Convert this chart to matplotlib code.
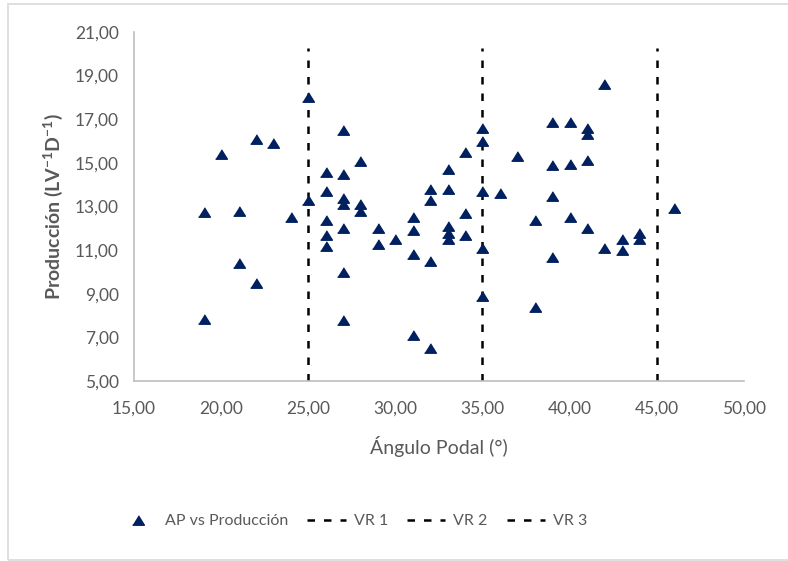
import matplotlib
matplotlib.use("Agg")
import matplotlib.pyplot as plt
from matplotlib.patches import Rectangle
from matplotlib.ticker import FuncFormatter

plt.rcParams["font.family"] = ["Lato", "DejaVu Sans"]
plt.rcParams["mathtext.default"] = "regular"

# Ángulo podal (°) and producción
angulo = [19, 19, 20, 21, 21, 22, 22, 23, 24, 25, 25,
          26, 26, 26, 26, 26,
          27, 27, 27, 27, 27, 27, 27,
          28, 28, 28, 29, 29, 30,
          31, 31, 31, 31, 32, 32, 32, 32,
          33, 33, 33, 33, 33, 34, 34, 34,
          35, 35, 35, 35, 35, 36, 37, 38, 38,
          39, 39, 39, 39, 40, 40, 40,
          41, 41, 41, 41, 42, 42, 43, 43, 44, 44, 46]
produccion = [12.75, 7.85, 15.4, 12.8, 10.4, 16.1, 9.5, 15.9, 12.5, 18.0, 13.3,
              14.6, 13.7, 12.4, 11.7, 11.2,
              16.5, 14.5, 13.4, 13.1, 12.0, 10.0, 7.8,
              15.1, 13.1, 12.8, 12.0, 11.3, 11.5,
              12.5, 11.9, 10.8, 7.1, 13.8, 13.3, 10.5, 6.5,
              14.7, 13.8, 12.1, 11.8, 11.5, 15.5, 12.7, 11.7,
              16.6, 16.0, 13.7, 11.1, 8.9, 13.6, 15.3, 12.4, 8.4,
              16.85, 14.9, 13.5, 10.7, 16.85, 14.95, 12.5,
              16.6, 16.3, 15.15, 12.0, 18.6, 11.1, 11.5, 11.0, 11.8, 11.5, 12.95]

# reference lines
vr_x = [25, 35, 45]
vr_names = ["VR 1", "VR 2", "VR 3"]
vr_y = [5, 20.25]

gray = "#595959"
navy = "#002060"

fig = plt.figure(figsize=(7.88, 5.61), dpi=100)
ax = fig.add_axes([0.170, 0.321, 0.774, 0.622])

tri = [(-1, -0.8), (1, -0.8), (0, 0.8)]
ax.plot(angulo, produccion, linestyle="none", marker=tri, ms=8.5,
        color=navy, label="AP vs Producción", zorder=3)
for x, name in zip(vr_x, vr_names):
    ax.plot([x, x], vr_y, color="black", lw=1.8, dashes=(3.0, 3.6),
            label=name, zorder=2)

ax.set_xlim(15, 50)
ax.set_ylim(5, 21)
ax.set_xticks(range(15, 51, 5))
ax.set_yticks(range(5, 22, 2))
fmt = FuncFormatter(lambda v, p: f"{v:.2f}".replace(".", ","))
ax.xaxis.set_major_formatter(fmt)
ax.yaxis.set_major_formatter(fmt)
ax.tick_params(length=0, labelsize=12.5, labelcolor=gray)
ax.tick_params(axis="x", pad=14)
ax.tick_params(axis="y", pad=11)

for s in ["top", "right"]:
    ax.spines[s].set_visible(False)
for s in ["left", "bottom"]:
    ax.spines[s].set_color("#BFBFBF")
    ax.spines[s].set_linewidth(1.2)

ax.set_xlabel("Ángulo Podal (°)", fontsize=14, color=gray, labelpad=14)
ax.set_ylabel("Producción (LV$^{-1}$D$^{-1}$)", fontsize=14, color=gray,
              fontweight="bold", labelpad=7)

fig.legend(loc="center", bbox_to_anchor=(0.448, 0.071), ncol=4, frameon=False,
           fontsize=11.5, labelcolor=gray, handlelength=2.4, columnspacing=1.2,
           handletextpad=0.5)

fig.patches.append(Rectangle((8 / 788, 1 / 561), 1.0, 556 / 561,
                             transform=fig.transFigure, fill=False,
                             edgecolor="#D9D9D9", lw=1.2))

fig.savefig("out.png", dpi=100)
